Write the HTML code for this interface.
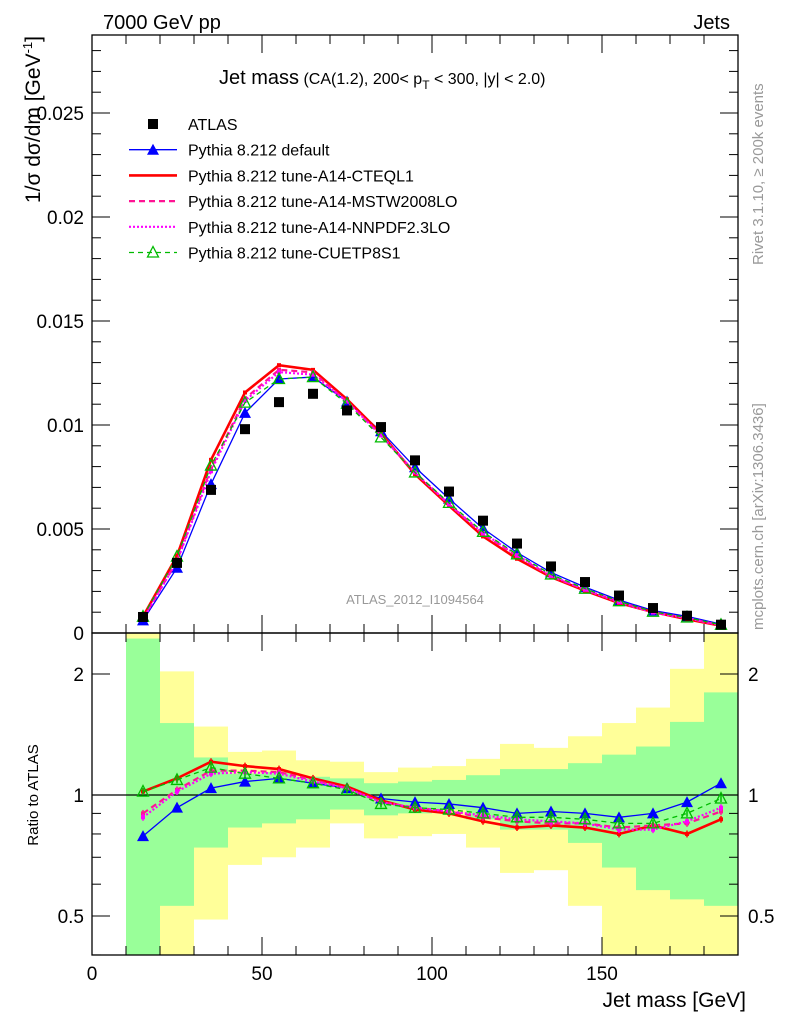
<!DOCTYPE html>
<html><head><meta charset="utf-8"><style>
body{margin:0;background:#fff;}
svg text{font-family:"Liberation Sans",sans-serif;}
</style></head><body>
<svg id="c" width="786" height="1024" xmlns="http://www.w3.org/2000/svg"></svg>
<script>
const xCenters=[15,25,35,45,55,65,75,85,95,105,115,125,135,145,155,165,175,185];
const atlas=[0.00077,0.00337,0.00688,0.0098,0.0111,0.0115,0.0107,0.0099,0.0083,0.0068,0.0054,0.0043,0.0032,0.00245,0.0018,0.0012,0.00083,0.0004];
const rDefault=[0.79,0.93,1.04,1.08,1.10,1.07,1.04,0.98,0.96,0.95,0.93,0.90,0.91,0.90,0.88,0.90,0.96,1.07];
const rCteq=[1.02,1.10,1.21,1.18,1.16,1.10,1.05,0.97,0.92,0.90,0.86,0.83,0.84,0.83,0.80,0.84,0.80,0.87];
const rMstw=[0.90,1.03,1.15,1.15,1.14,1.09,1.04,0.96,0.93,0.91,0.88,0.86,0.85,0.85,0.83,0.84,0.85,0.91];
const rNnpdf=[0.88,1.02,1.13,1.14,1.13,1.08,1.04,0.96,0.93,0.91,0.89,0.87,0.86,0.85,0.82,0.82,0.86,0.93];
const rCuetp=[1.02,1.09,1.17,1.13,1.10,1.07,1.03,0.95,0.93,0.92,0.90,0.88,0.88,0.87,0.85,0.85,0.90,0.98];
const binLo=[10,20,30,40,50,60,70,80,90,100,110,120,130,140,150,160,170,180];
const yelTop=[3.0,2.03,1.48,1.28,1.29,1.22,1.21,1.14,1.17,1.18,1.23,1.34,1.31,1.40,1.51,1.65,2.06,3.0];
const grnTop=[2.45,1.51,1.24,1.13,1.14,1.11,1.10,1.07,1.08,1.09,1.12,1.16,1.16,1.20,1.26,1.32,1.52,1.80];
const grnBot=[0.3,0.53,0.74,0.83,0.85,0.87,0.92,0.89,0.90,0.92,0.87,0.82,0.82,0.76,0.66,0.58,0.55,0.53];
const yelBot=[0.3,0.3,0.49,0.67,0.70,0.74,0.85,0.78,0.79,0.80,0.74,0.64,0.65,0.53,0.3,0.3,0.3,0.3];
const xTicks=[0,50,100,150];
const yTicks=[0,0.005,0.01,0.015,0.02,0.025];
const yTickLabels=["0","0.005","0.01","0.015","0.02","0.025"];
const rTicks=[0.5,1,2];
const rTickLabels=["0.5","1","2"];

const L=92,R=738,T=35,MB=633,RB=955;
const X=v=>L+(v)*3.4;
const Y=v=>MB-v*20800;
const RY=v=>{let y=795-Math.log10(v)*402;return Math.max(T+598,Math.min(RB,y));};
const svg=document.getElementById('c');
const NS='http://www.w3.org/2000/svg';
function mk(tag,at,parent){const e=document.createElementNS(NS,tag);for(const k in at)e.setAttribute(k,at[k]);(parent||svg).appendChild(e);return e;}
function txt(s,at){const e=mk('text',at);e.textContent=s;return e;}

const bands=mk('g',{});


binLo.forEach((lo,i)=>{
  const r=mk('rect',{x:X(lo),y:RY(yelTop[i]),width:X(lo+10)-X(lo),height:RY(yelBot[i])-RY(yelTop[i]),fill:'#ffff99'},bands);
  
  
  const g=mk('rect',{x:X(lo),y:RY(grnTop[i]),width:X(lo+10)-X(lo),height:RY(grnBot[i])-RY(grnTop[i]),fill:'#99ff99'},bands);
  
  
});
mk('line',{x1:L,x2:R,y1:795,y2:795,stroke:'#000','stroke-width':1.3});

mk('rect',{x:L,y:T,width:R-L,height:MB-T,fill:'none',stroke:'#000','stroke-width':1.3});
mk('rect',{x:L,y:MB,width:R-L,height:RB-MB,fill:'none',stroke:'#000','stroke-width':1.3});

for(let v=0;v<=190;v+=10){
  const big=v%50==0, len=big?18:9;
  [[T,1],[MB,-1],[MB,1],[RB,-1]].forEach(([y0,d])=>mk('line',{x1:X(v),x2:X(v),y1:y0,y2:y0+d*len,stroke:'#000'}));
}
xTicks.forEach(v=>{const t=txt(String(v),{x:X(v),y:980,'font-size':19,'text-anchor':'middle'});
 });
for(let v=0;v<=0.0285;v+=0.001){
  const big=Math.round(v*1000)%5==0,len=big?18:9;
  mk('line',{x1:L,x2:L+len,y1:Y(v),y2:Y(v),stroke:'#000'});
  mk('line',{x1:R,x2:R-len,y1:Y(v),y2:Y(v),stroke:'#000'});
}
yTicks.forEach((v,i)=>{const t=txt(yTickLabels[i],{x:84,y:Y(v)+7,'font-size':19,'text-anchor':'end'});
 });
[0.4,0.5,0.6,0.7,0.8,0.9,1,2].forEach(v=>{
  const big=(v==0.5||v==1||v==2),len=big?18:9;
  mk('line',{x1:L,x2:L+len,y1:RY(v),y2:RY(v),stroke:'#000'});
  mk('line',{x1:R,x2:R-len,y1:RY(v),y2:RY(v),stroke:'#000'});
});
rTicks.forEach((v,i)=>{
  const a=txt(rTickLabels[i],{x:84,y:RY(v)+7,'font-size':19,'text-anchor':'end'});
  
  const b=txt(rTickLabels[i],{x:748,y:RY(v)+7,'font-size':19});
  
});

const series=[
 {r:rDefault,c:'#0000ff',w:1.3,d:'',m:'tri',name:'default'},
 {r:rCteq,c:'#ff0000',w:2.6,d:'',m:'sq',name:'cteql1'},
 {r:rMstw,c:'#ff1493',w:2.2,d:'6,4',m:'sq',name:'mstw2008lo'},
 {r:rNnpdf,c:'#ff00ff',w:2.2,d:'2,2',m:'sq',name:'nnpdf23lo'},
 {r:rCuetp,c:'#00bb00',w:1.3,d:'5,4',m:'otri',name:'cuetp8s1'}
];
function marker(g,m,x,y,c){
  if(m=='tri')mk('polygon',{points:`${x},${y-6} ${x-6},${y+5} ${x+6},${y+5}`,fill:c},g);
  else if(m=='otri')mk('polygon',{points:`${x},${y-6} ${x-5.5},${y+4.5} ${x+5.5},${y+4.5}`,fill:'none',stroke:c,'stroke-width':1.3},g);
  else mk('rect',{x:x-2,y:y-2,width:4,height:4,fill:c},g);
}
series.forEach(s=>{
  const g=mk('g',{});
  
  
  const mp=xCenters.map((x,i)=>X(x)+','+Y(s.r[i]*atlas[i])).join(' ');
  mk('polyline',{points:mp,fill:'none',stroke:s.c,'stroke-width':s.w,'stroke-dasharray':s.d},g);
  const rp=xCenters.map((x,i)=>X(x)+','+RY(s.r[i])).join(' ');
  mk('polyline',{points:rp,fill:'none',stroke:s.c,'stroke-width':s.w,'stroke-dasharray':s.d},g);
  xCenters.forEach((x,i)=>{
    mk('line',{x1:X(x),x2:X(x),y1:RY(s.r[i]*1.02),y2:RY(s.r[i]/1.02),stroke:s.c,'stroke-width':1.5},g);
    marker(g,s.m,X(x),Y(s.r[i]*atlas[i]),s.c);
    marker(g,s.m,X(x),RY(s.r[i]),s.c);
  });
});
const dg=mk('g',{});


xCenters.forEach((x,i)=>{mk('rect',{x:X(x)-5,y:Y(atlas[i])-5,width:10,height:10,fill:'#000'},dg);});

const leg=[['ATLAS','data'],['Pythia 8.212 default',0],['Pythia 8.212 tune-A14-CTEQL1',1],['Pythia 8.212 tune-A14-MSTW2008LO',2],['Pythia 8.212 tune-A14-NNPDF2.3LO',3],['Pythia 8.212 tune-CUETP8S1',4]];
leg.forEach((l,i)=>{
  const y=124+i*25.7;
  const g=mk('g',{});
  
  
  if(l[1]==='data')mk('rect',{x:148,y:y-5,width:10,height:10,fill:'#000'},g);
  else{const s=series[l[1]];
    mk('line',{x1:129,x2:177,y1:y,y2:y,stroke:s.c,'stroke-width':s.w,'stroke-dasharray':s.d},g);
    if(s.m!='sq')marker(g,s.m,153,y,s.c);}
  const t=mk('text',{x:188,y:y+6,'font-size':16},g);t.textContent=l[0];
});

let t;
t=txt('7000 GeV pp',{x:103,y:29,'font-size':20});
t=txt('Jets',{x:730,y:29,'font-size':20,'text-anchor':'end'});
t=mk('text',{x:219,y:84,'font-size':20});t.innerHTML='Jet mass<tspan font-size="16"> (CA(1.2), 200&lt; p</tspan><tspan font-size="12" dy="5">T</tspan><tspan font-size="16" dy="-5"> &lt; 300, |y| &lt; 2.0)</tspan>';

t=txt('ATLAS_2012_I1094564',{x:415,y:604,'font-size':13,fill:'#999','text-anchor':'middle'});
t=mk('text',{x:0,y:0,'font-size':21,transform:'translate(40,36) rotate(-90)','text-anchor':'end'});t.innerHTML='1/σ dσ/dm [GeV<tspan font-size="13" dy="-8">-1</tspan><tspan dy="8">]</tspan>';

t=txt('Ratio to ATLAS',{x:0,y:0,'font-size':15,transform:'translate(38,795) rotate(-90)','text-anchor':'middle'});
t=txt('Jet mass [GeV]',{x:746,y:1007,'font-size':21,'text-anchor':'end'});
t=txt('Rivet 3.1.10, ≥ 200k events',{x:0,y:0,'font-size':15,fill:'#999',transform:'translate(763,265) rotate(-90)'});
t=txt('mcplots.cern.ch [arXiv:1306.3436]',{x:0,y:0,'font-size':15,fill:'#999',transform:'translate(763,630) rotate(-90)'});
</script>
</body></html>
